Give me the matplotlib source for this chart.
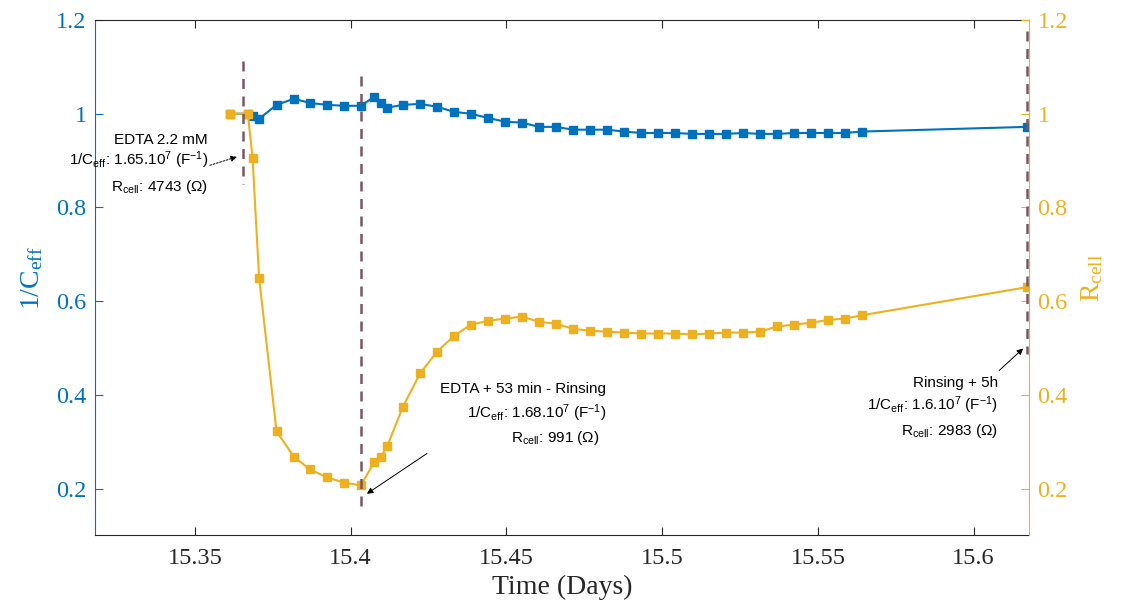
import matplotlib
matplotlib.use("Agg")
import matplotlib.pyplot as plt
from matplotlib.ticker import FuncFormatter

# ---------------- data ----------------
time_days = [15.3612, 15.3670, 15.3685, 15.3706, 15.3762, 15.3818, 15.3869, 15.3924,
             15.3978, 15.4033, 15.4075, 15.4097, 15.4117, 15.4168, 15.4223, 15.4277,
             15.4332, 15.4386, 15.4441, 15.4496, 15.4550, 15.4605, 15.4659, 15.4714,
             15.4768, 15.4823, 15.4878, 15.4932, 15.4987, 15.5041, 15.5096, 15.5151,
             15.5205, 15.5260, 15.5314, 15.5369, 15.5424, 15.5478, 15.5533, 15.5587,
             15.5642, 15.6172]

inv_ceff = [1.000, 1.000, 0.996, 0.989, 1.019, 1.032, 1.023, 1.019,
            1.017, 1.017, 1.036, 1.023, 1.013, 1.019, 1.021, 1.015,
            1.004, 1.000, 0.991, 0.983, 0.981, 0.972, 0.972, 0.966,
            0.966, 0.966, 0.962, 0.959, 0.959, 0.959, 0.957, 0.957,
            0.957, 0.959, 0.957, 0.957, 0.959, 0.959, 0.959, 0.959,
            0.962, 0.972]

r_cell = [1.000, 1.000, 0.906, 0.650, 0.322, 0.268, 0.241, 0.224,
          0.213, 0.207, 0.256, 0.268, 0.290, 0.375, 0.446, 0.492,
          0.526, 0.550, 0.558, 0.563, 0.567, 0.556, 0.552, 0.541,
          0.537, 0.535, 0.533, 0.531, 0.531, 0.531, 0.529, 0.531,
          0.533, 0.533, 0.535, 0.546, 0.550, 0.554, 0.560, 0.563,
          0.570, 0.630]

# event markers (vertical dashed lines): time, y-start, y-end
event_times = [15.3654, 15.4033, 15.6172]
event_ytop = [1.113, 1.081, 1.177]
event_ybot = [0.851, 0.164, 0.488]

xticks = [15.35, 15.40, 15.45, 15.50, 15.55, 15.60]
yticks = [0.2, 0.4, 0.6, 0.8, 1.0, 1.2]

# ---------------- style ----------------
BLUE = "#0072BD"
ORANGE = "#EDB120"
DASH = "#7d5560"
GRAY = "#262626"

plt.rcParams["mathtext.default"] = "regular"
SERIF = "Liberation Serif"
SANS = "Liberation Sans"

fig = plt.figure(figsize=(11.25, 6.07), dpi=100)
ax = fig.add_axes([0.0844, 0.1178, 0.8303, 0.8492])
ax2 = ax.twinx()

ax.plot(time_days, inv_ceff, color=BLUE, lw=1.5, marker="s", ms=5.5,
        mfc=BLUE, mec=BLUE, zorder=3)
ax2.plot(time_days, r_cell, color=ORANGE, lw=1.5, marker="s", ms=5.5,
         mfc=ORANGE, mec=ORANGE, zorder=3)

for t, y0, y1 in zip(event_times, event_ytop, event_ybot):
    ax2.plot([t, t], [y0, y1], color=DASH, lw=1.8, ls=(0, (4, 3)), zorder=4)

xlim = (15.3179, 15.6178)
ylim = (0.1, 1.2)
ax.set_xlim(*xlim)
ax.set_ylim(*ylim)
ax2.set_ylim(*ylim)

fmt = FuncFormatter(lambda v, p: f"{v:g}")
ax.set_xticks(xticks)
ax.xaxis.set_major_formatter(fmt)
ax.set_yticks(yticks)
ax.yaxis.set_major_formatter(fmt)
ax2.set_yticks(yticks)
ax2.yaxis.set_major_formatter(fmt)

ax.tick_params(axis="x", direction="in", length=6, width=0.8, colors=GRAY,
               labelsize=17.5, pad=9, top=True)
ax.tick_params(axis="y", direction="in", length=6, width=0.8, colors=BLUE,
               labelsize=17.5, pad=6)
ax2.tick_params(axis="y", direction="in", length=6, width=0.8, colors=ORANGE,
                labelsize=17.5, pad=6)
for lab in ax.get_xticklabels() + ax.get_yticklabels() + ax2.get_yticklabels():
    lab.set_fontfamily(SERIF)

for s in ["top", "bottom"]:
    ax.spines[s].set_color(GRAY)
    ax.spines[s].set_linewidth(0.8)
ax.spines["left"].set_color(BLUE)
ax.spines["right"].set_visible(False)
for s in ["top", "bottom", "left"]:
    ax2.spines[s].set_visible(False)
ax2.spines["right"].set_color(ORANGE)
ax2.spines["right"].set_linewidth(0.8)
ax.spines["left"].set_linewidth(0.8)

ax.set_xlabel("Time (Days)", fontfamily=SERIF, fontsize=20, color=GRAY, labelpad=4)
ax.set_ylabel("1/C$_{eff}$", fontfamily=SERIF, fontsize=20, color=BLUE, labelpad=8)
ax2.set_ylabel("R$_{cell}$", fontfamily=SERIF, fontsize=20, color=ORANGE, labelpad=8)

# ---------------- annotations ----------------
tk = dict(fontfamily=SANS, fontsize=11, color="black", ha="right", va="center",
          clip_on=False, zorder=5)

# annotation 1
ax2.text(15.3542, 0.945, "EDTA 2.2 mM", **tk)
ax2.text(15.3542, 0.900, "1/C$_{eff}$: 1.65.10$^{7}$ (F$^{-1}$)", **tk)
ax2.text(15.3542, 0.844, "R$_{cell}$: 4743 (Ω)", **tk)
ax2.annotate("", xy=(15.3635, 0.908), xytext=(15.3548, 0.890),
             arrowprops=dict(arrowstyle="-|>", color="black", lw=0.7,
                             ls=(0, (2, 1.5)), mutation_scale=9,
                             shrinkA=0, shrinkB=0), annotation_clip=False)

# annotation 2
ax2.text(15.4820, 0.413, "EDTA + 53 min - Rinsing", **tk)
ax2.text(15.4820, 0.362, "1/C$_{eff}$: 1.68.10$^{7}$ (F$^{-1}$)", **tk)
ax2.text(15.4800, 0.309, "R$_{cell}$: 991 (Ω)", **tk)
ax2.annotate("", xy=(15.4052, 0.189), xytext=(15.4245, 0.275),
             arrowprops=dict(arrowstyle="-|>", color="black", lw=0.7,
                             mutation_scale=9, shrinkA=0, shrinkB=0))

# annotation 3
ax2.text(15.6079, 0.426, "Rinsing + 5h", **tk)
ax2.text(15.6079, 0.377, "1/C$_{eff}$: 1.6.10$^{7}$ (F$^{-1}$)", **tk)
ax2.text(15.6079, 0.324, "R$_{cell}$: 2983 (Ω)", **tk)
ax2.annotate("", xy=(15.6159, 0.499), xytext=(15.6082, 0.452),
             arrowprops=dict(arrowstyle="-|>", color="black", lw=0.7,
                             mutation_scale=9, shrinkA=0, shrinkB=0))

fig.savefig("out.png", dpi=100)
